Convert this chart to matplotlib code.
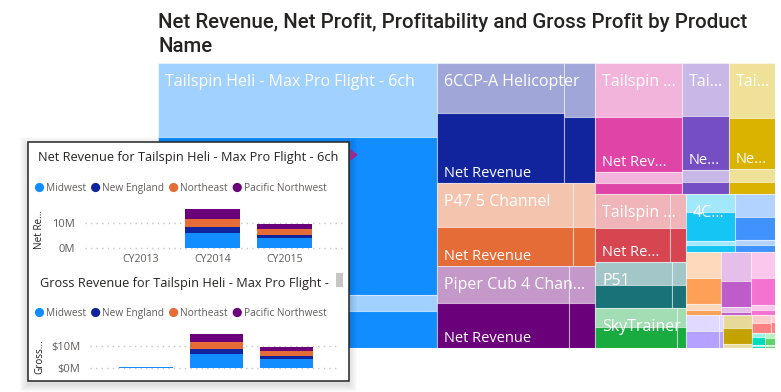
import matplotlib
matplotlib.use("Agg")
import matplotlib.pyplot as plt
from matplotlib.colors import to_rgb
from matplotlib.patches import Rectangle, Polygon, Circle

plt.rcParams["font.family"] = ["Open Sans", "DejaVu Sans"]

# ---- treemap data: one tile per product, split into four measures ----
products = [
    "Tailspin Heli - Max Pro Flight - 6ch", "6CCP-A Helicopter", "P47 5 Channel",
    "Piper Cub 4 Channel", "Tailspin Heli - Hat Trick", "Tailspin Heli - Mini Flyer",
    "Tailspin Heli - Stunt 3D", "Tailspin Heli - Max Pro Flight - 4ch", "P51",
    "SkyTrainer", "4CH Quad Drone", "Spitfire", "Cessna 182", "Corsair",
    "Mustang Mini", "Zero Fighter", "Extra 300", "Cub Sport", "Glider Pro", "Mini Racer",
]
product_value = [79.5, 18.96, 13.04, 13.0, 11.27, 6.16, 6.03, 6.12, 4.14, 3.6,
                 2.9, 2.32, 2.23, 1.86, 1.49, 1.25, 0.96, 0.41, 0.2, 0.15]
# share of each product tile taken by each measure (%)
gross_profit_pct = [26, 33.5, 46.1, 38, 40.9, 40.2, 41.7, 41.1, 43.7, 43.2,
                    31, 39.7, 41.9, 45.2, 41.9, 43.6, 40, 36, 27, 35]
net_revenue_pct = [55.4, 46.9, 39.9, 45, 42.4, 41.7, 39.4, 41.1, 41.8, 47.8,
                   50, 39.7, 40.3, 41.9, 41.9, 46.4, 48, 47, 53, 45]
net_profit_pct = [5.6, 8.8, 7.5, 7.8, 8.3, 9.1, 9.8, 8.9, 7.4, 4.3,
                  7, 8.6, 9.7, 8.1, 8.1, 5, 9, 7, 7, 10]
profitability_pct = [13, 10.8, 6.5, 9.2, 8.4, 9.0, 9.1, 8.9, 7.1, 4.7,
                     12, 12, 8.1, 4.8, 8.1, 5, 3, 10, 13, 10]
palette = ["#118DFF", "#12239E", "#E66C37", "#6B007B", "#E044A7", "#744EC2", "#D9B300",
           "#D64550", "#197278", "#1AAB40", "#15C6F4", "#4092FF", "#FFA058", "#BE5DC9",
           "#F472D0", "#B5A1FF", "#C4A200", "#FF8080", "#00DBBC", "#5BD667"]

# ---- tooltip data ($M) ----
years = ["CY2013", "CY2014", "CY2015"]
regions = ["Midwest", "New England", "Northeast", "Pacific Northwest"]
region_colors = ["#118DFF", "#12239E", "#E66C37", "#6B007B"]
net_revenue_m = [[0.1, 6.1, 3.9], [0.03, 2.3, 1.4], [0.05, 3.1, 2.1], [0.12, 3.7, 2.1]]
gross_revenue_m = [[0.1, 6.1, 4.0], [0.03, 2.4, 1.4], [0.05, 3.2, 2.3], [0.12, 3.7, 2.0]]

W, H = 781, 392
fig = plt.figure(figsize=(W / 100, H / 100), dpi=100)
renderer = fig.canvas.get_renderer()


def fbox(x0, y0, x1, y1):
    return [x0 / W, 1 - y1 / H, (x1 - x0) / W, (y1 - y0) / H]


def lighten(c, a=0.4):
    r, g, b = to_rgb(c)
    return (1 - a + a * r, 1 - a + a * g, 1 - a + a * b)


def squarify(values, x0, y0, x1, y1, ratio=(1 + 5 ** 0.5) / 2):
    # d3-style squarified layout, y grows downwards
    rects, i0, n, remaining = [], 0, len(values), float(sum(values))
    while i0 < n:
        dx, dy = x1 - x0, y1 - y0
        s = vmin = vmax = values[i0]
        i1 = i0 + 1
        alpha = max(dy / dx, dx / dy) / (remaining * ratio)
        beta = s * s * alpha
        best = max(vmax / beta, beta / vmin)
        while i1 < n:
            v = values[i1]
            lo, hi, s2 = min(vmin, v), max(vmax, v), s + v
            beta = s2 * s2 * alpha
            r = max(hi / beta, beta / lo)
            if r > best:
                break
            s, vmin, vmax, best = s2, lo, hi, r
            i1 += 1
        row = values[i0:i1]
        if dx < dy:
            h = dy * s / remaining
            cx = x0
            for v in row:
                rects.append((cx, y0, dx * v / s, h))
                cx += dx * v / s
            y0 += h
        else:
            w = dx * s / remaining
            cy = y0
            for v in row:
                rects.append((x0, cy, w, dy * v / s))
                cy += dy * v / s
            x0 += w
        remaining -= s
        i0 = i1
    return rects


def text_width(s, size, ax):
    t = ax.text(0, 0, s, fontsize=size)
    w = t.get_window_extent(renderer).width
    t.remove()
    return w


def fit(s, max_w, size, ax):
    if text_width(s, size, ax) <= max_w:
        return s
    for k in range(len(s) - 1, 0, -1):
        cand = s[:k] + "..."
        if text_width(cand, size, ax) <= max_w:
            return cand
    return ""


# ---- title ----
TFONT = ["Roboto", "DejaVu Sans"]
fig.text(158 / W, 1 - 28 / H, "Net Revenue, Net Profit, Profitability and Gross Profit by Product",
         fontsize=14.8, color="#252423", family=TFONT, fontweight="medium", va="baseline")
fig.text(158 / W, 1 - 52 / H, "Name", fontsize=14.8, color="#252423",
         family=TFONT, fontweight="medium", va="baseline")

# ---- treemap ----
tx0, ty0, tx1, ty1 = 158, 63, 775, 348
bx0, by0, bx1, by1 = 28, 142, 349, 381   # tooltip box (page pixels)
ax = fig.add_axes(fbox(tx0, ty0, tx1, ty1))
ax.set_xlim(0, tx1 - tx0)
ax.set_ylim(ty1 - ty0, 0)
ax.axis("off")


def hidden(x, y):
    px, py = tx0 + x, ty0 + y
    return bx0 < px < bx1 and by0 < py < by1


CAT, VAL = 11.5, 10.5
edge = (1, 1, 1, 0.45)
tiles = squarify(product_value, 0, 0, tx1 - tx0, ty1 - ty0)
for i, (x, y, w, h) in enumerate(tiles):
    parts = [gross_profit_pct[i], net_revenue_pct[i], net_profit_pct[i], profitability_pct[i]]
    shades = [lighten(palette[i]), palette[i], lighten(palette[i]), palette[i]]
    if w > h:
        left = (parts[0] + parts[1]) / sum(parts)
        cols = [(x, w * left, [0, 1]), (x + w * left, w * (1 - left), [2, 3])]
    else:
        cols = [(x, w, [0, 1, 2, 3])]
    net_box = None
    for cx, cw, idx in cols:
        tot = sum(parts[k] for k in idx)
        cy = y
        for k in idx:
            ch = h * parts[k] / tot
            ax.add_patch(Rectangle((cx, cy), cw, ch, fc=shades[k], ec=edge, lw=0.8))
            if k == 1 and net_box is None:
                net_box = (cx, cy, cw, ch)
            cy += ch
    if w >= 45 and h >= 30 and not hidden(x + 7, y + 23):
        lab = fit(products[i], w - 9, CAT, ax)
        ax.text(x + 7, y + 23, lab, fontsize=CAT, color="white", va="baseline")
    nx, ny, nw, nh = net_box
    if nw >= 45 and nh >= 30 and not hidden(nx + 7, ny + nh - 6):
        lab = fit("Net Revenue", nw - 14, VAL, ax)
        ax.text(nx + 7, ny + nh - 6, lab, fontsize=VAL, color="white", va="baseline")

# ---- tooltip overlay ----
ov = fig.add_axes([0, 0, 1, 1])
ov.set_xlim(0, W)
ov.set_ylim(H, 0)
ov.axis("off")
ov.set_zorder(5)
ov.patch.set_visible(False)

for k in range(1, 9):
    ov.add_patch(Rectangle((bx0 - k, by0 - k + 3), bx1 - bx0 + 2 * k, by1 - by0 + 2 * k,
                           fc=(0, 0, 0, 0.014), ec="none"))
ov.add_patch(Rectangle((bx0, by0), bx1 - bx0, by1 - by0, fc="white", ec="#252423", lw=1.1))
ov.add_patch(Polygon([(bx1 + 1, 149), (bx1 + 9, 155), (bx1 + 1, 161)], fc="#9C2C8C", ec="none"))
ov.add_patch(Rectangle((336, 273), 7, 14, fc="#C8C6C4", ec="none"))

GREY = "#605E5C"
ov.text((bx0 + bx1) / 2, 161, "Net Revenue for Tailspin Heli - Max Pro Flight - 6ch",
        fontsize=9.2, color="#252423", ha="center", va="baseline")
ov.text(40, 287, "Gross Revenue for Tailspin Heli - Max Pro Flight -",
        fontsize=9.2, color="#252423", ha="left", va="baseline")

for ly in (187.5, 312.5):
    cur = 35
    for name, col in zip(regions, region_colors):
        ov.add_patch(Circle((cur + 4.5, ly), 4.6, fc=col, ec="none"))
        ov.text(cur + 11, ly + 3.6, name, fontsize=7.3, color=GREY, va="baseline")
        cur += 11 + text_width(name, 7.3, ov) + 5

ov.text(40, 229, "Net Re...", fontsize=7.2, color="#252423", rotation=90, ha="center", va="center")
ov.text(40, 357, "Gross...", fontsize=7.2, color="#252423", rotation=90, ha="center", va="center")


def stacked(pos, data, xlim, ylim, ticklabels, show_x):
    b = fig.add_axes(fbox(*pos))
    b.set_zorder(6)
    b.patch.set_visible(False)
    bottom = [0.0] * len(years)
    for vals, col in zip(data, region_colors):
        b.bar(range(len(years)), vals, width=0.76, bottom=bottom, color=col)
        bottom = [p + v for p, v in zip(bottom, vals)]
    b.set_xlim(*xlim)
    b.set_ylim(*ylim)
    b.set_yticks([0, 10])
    b.set_yticklabels(ticklabels, fontsize=8, color=GREY)
    b.yaxis.grid(True, linestyle=(0, (1, 3)), color="#C8C6C4", lw=1)
    b.set_axisbelow(True)
    b.tick_params(length=0, pad=7)
    b.set_xticks(range(len(years)))
    if show_x:
        b.set_xticklabels(years, fontsize=7.6, color=GREY)
        b.tick_params(axis="x", pad=3)
    else:
        b.set_xticklabels([])
    for s in b.spines.values():
        s.set_visible(False)
    return b


stacked((85, 205, 345, 250), net_revenue_m, (-0.77, 2.84), (-0.66, 16.9), ["0M", "10M"], True)
stacked((90, 330, 340, 370), gross_revenue_m, (-0.8, 2.76), (-1.06, 17.4), ["$0M", "$10M"], False)

fig.savefig("out.png", dpi=100)
